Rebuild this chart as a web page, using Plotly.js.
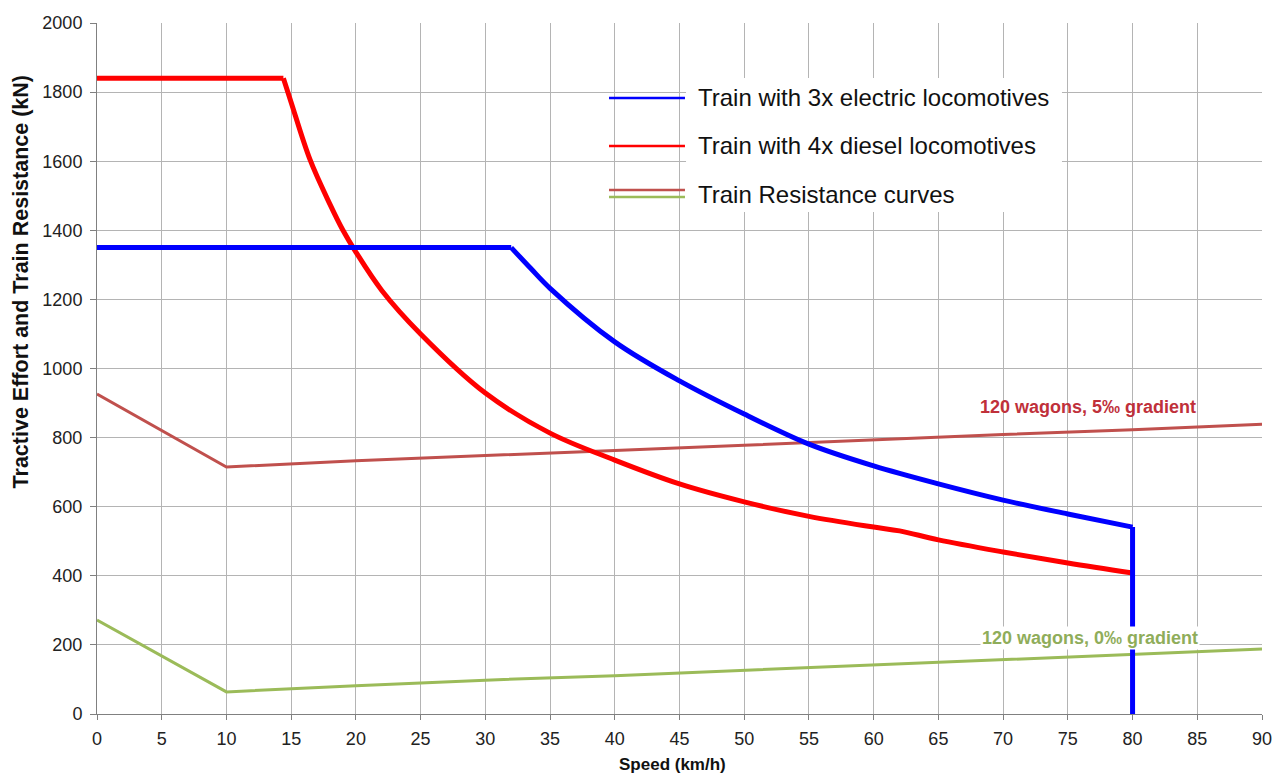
<!DOCTYPE html>
<html>
<head>
<meta charset="utf-8">
<script src="https://cdn.plot.ly/plotly-3.0.1.min.js"></script>
<style>html,body{margin:0;padding:0;background:#fff;}#chart{width:1272px;height:778px;}</style>
</head>
<body>
<div id="chart"></div>
<script>
// Electric locomotives (3x)
const elecSpeed = [0, 32, 33.5, 35, 40, 45, 50, 55, 60, 65, 70, 75, 80, 80];
const elecForce = [1350, 1350, 1290, 1232, 1077, 964, 868, 781, 718, 666, 619, 579, 541, 0];
// Diesel locomotives (4x)
const dieselSpeed = [0, 14.4, 15, 16.45, 18, 19, 20, 22, 25, 30, 35, 40, 45, 50, 55, 60, 62, 65, 70, 75, 80];
const dieselForce = [1840, 1840, 1770, 1605, 1475, 1400, 1337, 1226, 1100, 929, 813, 735, 666, 614, 572, 541, 530, 504, 469, 437, 408];
// Train resistance, 5 per mille gradient
const res5Speed = [0, 10, 20, 30, 40, 50, 60, 70, 80, 90];
const res5Force = [926, 715, 733, 749, 763, 778, 794, 809, 823, 839];
// Train resistance, 0 per mille gradient
const res0Speed = [0, 10, 20, 30, 40, 50, 60, 70, 80, 90];
const res0Force = [272, 64, 82, 98, 111, 126, 141, 156, 171, 188];

const xTicks = [0,5,10,15,20,25,30,35,40,45,50,55,60,65,70,75,80,85,90];
const yTicks = [0,200,400,600,800,1000,1200,1400,1600,1800,2000];

const legendLabels = ['Train with 3x electric locomotives', 'Train with 4x diesel locomotives', 'Train Resistance curves'];
const label5 = '120 wagons, 5‰ gradient';
const label0 = '120 wagons, 0‰ gradient';
const xTitle = 'Speed (km/h)';
const yTitle = 'Tractive Effort and Train Resistance (kN)';

const C_BLUE = '#0000ff', C_RED = '#ff0000', C_DRED = '#c0504d', C_GREEN = '#9bbb59';

// split each traction curve into its constant part, its hyperbolic part and (electric) the final drop
const ne = elecSpeed.length, eCorner = 1, dCorner = 1;
const traces = [
  {x: res5Speed, y: res5Force, mode: 'lines', line: {color: C_DRED, width: 3}},
  {x: res0Speed, y: res0Force, mode: 'lines', line: {color: C_GREEN, width: 3}},
  {x: dieselSpeed.slice(0, dCorner + 1), y: dieselForce.slice(0, dCorner + 1), mode: 'lines', line: {color: C_RED, width: 5}},
  {x: dieselSpeed.slice(dCorner), y: dieselForce.slice(dCorner), mode: 'lines', line: {color: C_RED, width: 5, shape: 'spline', smoothing: 1}},
  {x: elecSpeed.slice(0, eCorner + 1), y: elecForce.slice(0, eCorner + 1), mode: 'lines', line: {color: C_BLUE, width: 5}},
  {x: elecSpeed.slice(eCorner, ne - 1), y: elecForce.slice(eCorner, ne - 1), mode: 'lines', line: {color: C_BLUE, width: 5, shape: 'spline', smoothing: 1}},
  {x: elecSpeed.slice(ne - 2), y: elecForce.slice(ne - 2), mode: 'lines', line: {color: C_BLUE, width: 5}}
];

const font = 'Liberation Sans, Arial, sans-serif';
const lx0 = 0.4395, lx1 = 0.5047, tx = 0.514;
const shapes = [
  {type: 'rect', xref: 'paper', yref: 'paper', x0: 0.5056, x1: 0.8283, y0: 0.7265, y1: 0.9204, fillcolor: '#ffffff', line: {width: 0}, layer: 'above'},
  {type: 'line', xref: 'paper', yref: 'paper', x0: lx0, x1: lx1, y0: 0.8915, y1: 0.8915, line: {color: C_BLUE, width: 2.5}},
  {type: 'line', xref: 'paper', yref: 'paper', x0: lx0, x1: lx1, y0: 0.822, y1: 0.822, line: {color: C_RED, width: 2.5}},
  {type: 'line', xref: 'paper', yref: 'paper', x0: lx0, x1: lx1, y0: 0.7583, y1: 0.7583, line: {color: C_DRED, width: 2.5}},
  {type: 'line', xref: 'paper', yref: 'paper', x0: lx0, x1: lx1, y0: 0.7482, y1: 0.7482, line: {color: C_GREEN, width: 2.5}}
];
const annotations = [
  {xref: 'paper', yref: 'paper', x: tx, y: 0.8915, xanchor: 'left', yanchor: 'middle', text: legendLabels[0], showarrow: false, font: {family: font, size: 24, color: '#111'}},
  {xref: 'paper', yref: 'paper', x: tx, y: 0.822, xanchor: 'left', yanchor: 'middle', text: legendLabels[1], showarrow: false, font: {family: font, size: 24, color: '#111'}},
  {xref: 'paper', yref: 'paper', x: tx, y: 0.7525, xanchor: 'left', yanchor: 'middle', text: legendLabels[2], showarrow: false, font: {family: font, size: 24, color: '#111'}},
  {x: 76.56, y: 888, xanchor: 'center', yanchor: 'middle', text: '<b>' + label5 + '</b>', showarrow: false, font: {family: font, size: 18, color: '#c0303a'}},
  {x: 76.7, y: 220, xanchor: 'center', yanchor: 'middle', text: '<b>' + label0 + '</b>', showarrow: false, bgcolor: '#ffffff', borderpad: 1, font: {family: font, size: 18, color: '#8fad5a'}},
  {xref: 'paper', yref: 'paper', x: 0.4944, y: -0.0738, xanchor: 'center', yanchor: 'middle', text: '<b>' + xTitle + '</b>', showarrow: false, font: {family: font, size: 17, color: '#111'}},
  {xref: 'paper', yref: 'paper', x: -0.065, y: 0.625, xanchor: 'center', yanchor: 'middle', textangle: -90, text: '<b>' + yTitle + '</b>', showarrow: false, font: {family: font, size: 21.5, color: '#111'}}
];

const layout = {
  width: 1272, height: 778,
  margin: {l: 97, r: 10, t: 23, b: 64},
  paper_bgcolor: '#fff', plot_bgcolor: '#fff',
  showlegend: false,
  font: {family: font, color: '#222'},
  xaxis: {
    range: [0, 90], tickvals: xTicks, ticktext: xTicks.map(String),
    showgrid: true, gridcolor: '#b4b4b4', gridwidth: 1,
    zeroline: false, showline: true, linecolor: '#808080', linewidth: 1,
    ticks: 'outside', ticklen: 5, tickcolor: '#808080', ticklabelstandoff: 3,
    ticklabeloverflow: 'allow',
    tickfont: {family: font, size: 18, color: '#222'}
  },
  yaxis: {
    range: [0, 2000], tickvals: yTicks, ticktext: yTicks.map(String),
    showgrid: true, gridcolor: '#b4b4b4', gridwidth: 1,
    zeroline: false, showline: true, linecolor: '#808080', linewidth: 1,
    ticks: 'outside', ticklen: 6, tickcolor: '#808080', ticklabelstandoff: 4,
    tickfont: {family: font, size: 18, color: '#222'}
  },
  shapes: shapes,
  annotations: annotations
};

Plotly.newPlot('chart', traces, layout, {displayModeBar: false, staticPlot: true});
</script>
</body>
</html>
